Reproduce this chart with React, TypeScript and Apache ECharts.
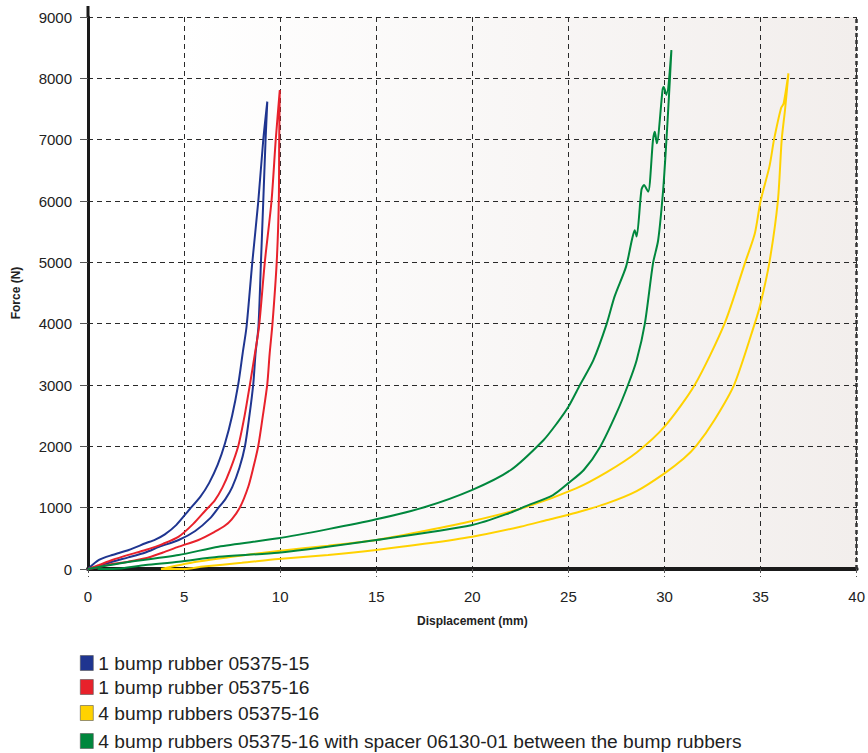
import React, { useEffect, useRef } from "react";
import * as echarts from "echarts";

const seriesNames = [
  "1 bump rubber 05375-15",
  "1 bump rubber 05375-16",
  "4 bump rubbers 05375-16",
  "4 bump rubbers 05375-16 with spacer 06130-01 between the bump rubbers",
];
const seriesColors = ["#1f3590", "#e8212b", "#ffd200", "#00873d"];
const yTickLabels = ["0", "1000", "2000", "3000", "4000", "5000", "6000", "7000", "8000", "9000"];

// [displacement mm, force N] — loading branch then unloading branch
const blueCurve: [number, number][] = [
  [0, 0], [0.57, 147], [1.26, 228], [2.12, 310], [2.99, 419], [3.5, 480], [4.0, 565],
  [4.6, 720], [5.25, 960], [5.85, 1180], [6.3, 1400], [6.75, 1700], [7.13, 2050],
  [7.5, 2500], [7.82, 3015], [8.05, 3520], [8.25, 3950], [8.55, 5000], [8.86, 5990],
  [9.12, 6995], [9.33, 7620],
  [9.24, 6995], [9.12, 5990], [9.0, 5000], [8.87, 3950], [8.72, 3520], [8.6, 3015],
  [8.4, 2500], [8.17, 2005], [7.88, 1650], [7.5, 1330], [7.15, 1140], [6.79, 1000],
  [6.36, 830], [5.58, 620], [4.72, 473], [3.7, 360], [2.99, 270], [2.1, 190],
  [1.26, 119], [0.5, 40], [0, 0],
];
const redCurve: [number, number][] = [
  [0, 0], [0.57, 65], [1.26, 147], [2.1, 230], [2.99, 310], [3.9, 410], [4.72, 527],
  [5.49, 740], [6.1, 950], [6.6, 1120], [7.0, 1330], [7.4, 1620], [7.82, 2005],
  [8.15, 2500], [8.43, 3015], [8.69, 3520], [8.9, 3950], [9.2, 5000], [9.55, 6000],
  [9.77, 7000], [9.98, 7810],
  [9.95, 7000], [9.93, 6000], [9.82, 5000], [9.6, 4000], [9.45, 3500], [9.33, 3015],
  [9.1, 2500], [8.86, 2005], [8.6, 1650], [8.34, 1341], [7.91, 1006], [7.48, 810],
  [7.1, 700], [6.6, 608], [5.75, 473], [4.72, 364], [3.9, 270], [2.99, 174], [2.1, 120],
  [1.26, 81], [0.4, 20], [0, 0],
];
const yellowCurve: [number, number][] = [
  [3.8, 0], [5.5, 110], [7.5, 200], [9.9, 293], [12.5, 380], [15, 473], [17.5, 620],
  [20, 782], [22.75, 1006], [25.4, 1315], [27, 1580], [28.55, 1900], [30, 2320],
  [31.57, 3000], [33.13, 4005], [34.2, 5000], [34.7, 5470], [35, 6000], [35.46, 6560],
  [35.7, 7000], [36.06, 7510], [36.2, 7590], [36.45, 8080],
  [36.27, 7480], [36.1, 7000], [35.9, 6000], [35.46, 5000], [35, 4330], [34.7, 4005],
  [33.64, 3015], [32.6, 2430], [31.66, 2010], [31, 1800], [30, 1560], [28.55, 1270],
  [27, 1070], [25.4, 918], [23.9, 800], [22.5, 690], [20, 527], [17.5, 410], [15, 310],
  [12.5, 230], [9.9, 163], [8, 100], [6, 40], [5, 0], [3.8, 0],
];
const greenCurve: [number, number][] = [
  [0, 0], [2.0, 110], [4.72, 228], [6.79, 364], [9.9, 500], [12.5, 650], [15, 810],
  [17.5, 1006], [20, 1290], [22, 1614], [23.7, 2100], [24.4, 2375], [25, 2645],
  [25.6, 3000], [26.3, 3405], [27, 4005], [27.4, 4440], [28, 4930], [28.3, 5360],
  [28.45, 5525], [28.55, 5420], [28.8, 6180], [28.93, 6260], [29.15, 6150],
  [29.4, 6990], [29.5, 7130], [29.6, 6940], [29.9, 7810], [29.96, 7860], [30.1, 7730],
  [30.36, 8460],
  [30.24, 7750], [30.1, 6990], [29.93, 6180], [29.67, 5360], [29.4, 4980],
  [28.98, 4005], [28.55, 3405], [28.1, 3000], [27.5, 2540], [26.65, 1990],
  [25.8, 1614], [25.0, 1400], [24.2, 1206], [22.75, 1020], [22, 920], [20, 717],
  [15, 473], [9.9, 266], [6.79, 200], [4.72, 119], [2.99, 65], [1.3, 0], [0.5, 0],
];
const curves = [blueCurve, redCurve, yellowCurve, greenCurve];

const FONT = "'Liberation Sans', Arial, Helvetica, sans-serif";

export default function App() {
  const ref = useRef<HTMLDivElement>(null);
  useEffect(() => {
    document.body.style.margin = "0";
    const chart = echarts.init(ref.current!, null, { renderer: "svg" });
    const dash = { color: "#2a2a2a", type: [5, 4] as number[], width: 1 };
    const legendTops = [653, 677, 703, 731];
    chart.setOption({
      animation: false,
      backgroundColor: "#ffffff",
      textStyle: { fontFamily: FONT },
      grid: {
        left: 88,
        right: 7,
        top: 17,
        bottom: 184,
        show: true,
        borderWidth: 0,
        backgroundColor: new echarts.graphic.LinearGradient(0, 0, 1, 0, [
          { offset: 0, color: "#ffffff" },
          { offset: 0.12, color: "#ffffff" },
          { offset: 1, color: "#f2eeec" },
        ]),
      },
      xAxis: {
        type: "value",
        min: 0,
        max: 40,
        interval: 5,
        name: "Displacement (mm)",
        nameLocation: "middle",
        nameGap: 46,
        nameTextStyle: { fontSize: 12, fontWeight: "bold", color: "#222", fontFamily: FONT },
        axisLine: { show: true, onZero: false, lineStyle: { color: "#1a1a1a", width: 4 } },
        axisTick: { show: true, length: 8, lineStyle: { color: "#555", width: 1, type: [4, 3] } },
        axisLabel: { fontSize: 15, color: "#222", margin: 20, fontFamily: FONT },
        splitLine: { show: true, lineStyle: dash },
      },
      yAxis: {
        type: "value",
        min: 0,
        max: 9000,
        interval: 1000,
        name: "Force (N)",
        nameLocation: "middle",
        nameGap: 66,
        nameTextStyle: { fontSize: 12, fontWeight: "bold", color: "#222", fontFamily: FONT },
        axisLine: { show: true, lineStyle: { color: "#1a1a1a", width: 3 } },
        axisTick: { show: true, length: 8, lineStyle: { color: "#555", width: 1 } },
        axisLabel: {
          fontSize: 15,
          color: "#222",
          margin: 16,
          fontFamily: FONT,
          formatter: (v: number) => yTickLabels[Math.round(v / 1000)] ?? String(v),
        },
        splitLine: { show: true, lineStyle: dash },
      },
      legend: seriesNames.map((name, i) => ({
        orient: "horizontal",
        left: 80,
        top: legendTops[i],
        padding: 0,
        icon: "rect",
        itemWidth: 13,
        itemHeight: 15,
        itemStyle: { borderColor: "#555", borderWidth: 0.6 },
        textStyle: { fontSize: 19.2, lineHeight: 20, color: "#222", fontFamily: FONT },
        data: [name],
      })),
      graphic: [
        {
          type: "line",
          shape: { x1: 88, y1: 6, x2: 88, y2: 18 },
          style: { stroke: "#1a1a1a", lineWidth: 3 },
        },
      ],
      series: curves.map((c, i) => ({
        name: seriesNames[i],
        type: "line",
        data: c,
        showSymbol: false,
        smooth: 0.25,
        color: seriesColors[i],
        lineStyle: { width: 2, color: seriesColors[i] },
        z: 3,
        ...(i === 0
          ? {
              markLine: {
                silent: true,
                symbol: "none",
                label: { show: false },
                lineStyle: { color: "#333", type: [4, 3], width: 2.5 },
                data: [{ xAxis: 40 }],
              },
            }
          : {}),
      })),
    });
    return () => chart.dispose();
  }, []);
  return (
    <div
      ref={ref}
      style={{ width: 868, height: 753, position: "absolute", left: 0, top: 0 }}
    />
  );
}
